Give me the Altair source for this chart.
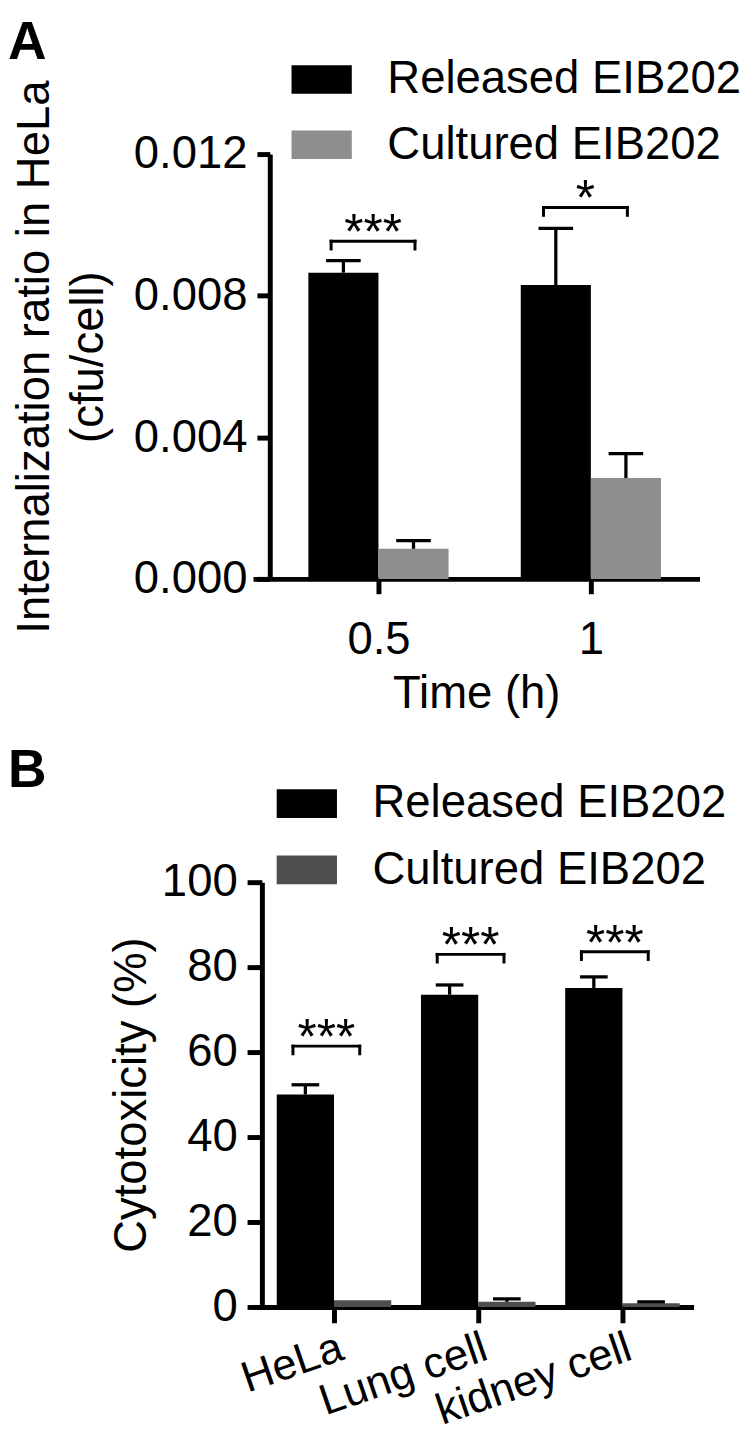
import json
import altair as alt
import pandas as pd

FONT = "Liberation Sans"
FS = 46

series = ["Released EIB202", "Cultured EIB202"]

# Panel A data
times = ["0.5", "1"]
a_released = [0.00865, 0.00830]
a_released_err = [0.00034, 0.00160]
a_cultured = [0.00085, 0.00285]
a_cultured_err = [0.00023, 0.00069]
a_sig = ["***", "*"]
a_bracket = [0.00954, 0.01049]
a_yticks = [0.0, 0.004, 0.008, 0.012]

# Panel B data
cells = ["HeLa", "Lung cell", "kidney cell"]
b_released = [50.0, 73.5, 75.1]
b_released_err = [2.3, 2.3, 2.6]
b_cultured = [1.6, 1.2, 0.9]
b_cultured_err = [0.0, 0.7, 0.3]
b_sig = ["***", "***", "***"]
b_bracket = [61.4, 83.0, 83.6]
b_yticks = [0, 20, 40, 60, 80, 100]


def build(cats, rel, rel_err, cul, cul_err, sig, brk, w, b_left, b_right, leg):
    bars = []
    for i, c in enumerate(cats):
        for s, vals, errs, x0 in ((series[0], rel, rel_err, i - w), (series[1], cul, cul_err, i)):
            bars.append({"cat": c, "series": s, "x0": x0, "x1": x0 + w, "xc": x0 + w / 2,
                         "v": vals[i], "top": vals[i] + errs[i], "err": errs[i]})
    segs, stars = [], []
    for i, c in enumerate(cats):
        xl, xr = i + b_left, i + b_right
        y = brk[i]
        y2 = y - leg
        segs += [{"xa": xl, "xb": xr, "ya": y, "yb": y},
                 {"xa": xl, "xb": xl, "ya": y, "yb": y2},
                 {"xa": xr, "xb": xr, "ya": y, "yb": y2}]
        stars.append({"x": (xl + xr) / 2, "y": y, "t": sig[i]})
    return pd.DataFrame(bars), pd.DataFrame(segs), pd.DataFrame(stars)


def panel(bars, segs, stars, xdom, ydom, colors, xaxis, yaxis, legend, cap, title, w, h, star_dy):
    xs = alt.Scale(domain=xdom, nice=False, zero=False)
    ys = alt.Scale(domain=ydom, nice=False)
    rect = alt.Chart(bars).mark_rect().encode(
        x=alt.X("x0:Q", scale=xs, axis=xaxis), x2="x1:Q",
        y=alt.Y("v:Q", scale=ys, axis=yaxis), y2=alt.datum(0),
        color=alt.Color("series:N", scale=alt.Scale(domain=series, range=colors), legend=legend),
    )
    eb = bars[bars.err > 0]
    rule = alt.Chart(eb).mark_rule(color="black", strokeWidth=3.3).encode(
        x=alt.X("xc:Q", scale=xs, axis=xaxis),
        y=alt.Y("v:Q", scale=ys, axis=yaxis), y2="top:Q")
    capm = alt.Chart(eb).mark_tick(orient="horizontal", size=cap, thickness=3.3, color="black", opacity=1).encode(
        x=alt.X("xc:Q", scale=xs, axis=xaxis),
        y=alt.Y("top:Q", scale=ys, axis=yaxis))
    br = alt.Chart(segs).mark_rule(color="black", strokeWidth=3, strokeCap="square").encode(
        x=alt.X("xa:Q", scale=xs, axis=xaxis), x2="xb:Q",
        y=alt.Y("ya:Q", scale=ys, axis=yaxis), y2="yb:Q")
    st = alt.Chart(stars).mark_text(font=FONT, fontSize=50, baseline="alphabetic", dy=star_dy, color="black").encode(
        x=alt.X("x:Q", scale=xs, axis=xaxis),
        y=alt.Y("y:Q", scale=ys, axis=yaxis), text="t:N")
    return alt.layer(rect, rule, capm, br, st).properties(width=w, height=h, title=title)


axis_common = dict(domainColor="black", domainWidth=5, tickColor="black", tickWidth=5,
                   labelFont=FONT, labelColor="black", titleFont=FONT,
                   titleFontSize=FS, titleFontWeight="normal", titleColor="black", grid=False,
                   domainCap="butt", labelLimit=500, labelOverlap=False)

legend_common = dict(orient="none", title=None, symbolType="M-1,-0.475H1V0.475H-1Z", symbolSize=3721,
                     symbolStrokeWidth=0, labelFont=FONT, labelFontSize=FS, labelColor="black",
                     labelLimit=600, labelOffset=36, padding=0)

LABEL_DX = -248

# Panel A
wA = 0.33
aBars, aSegs, aStars = build(times, a_released, a_released_err, a_cultured, a_cultured_err,
                             a_sig, a_bracket, wA, -wA / 2 - 0.058, wA / 2 + 0.007, 0.00022)
chartA = panel(
    aBars, aSegs, aStars, [-0.5907, 1.5116], [0, 0.012], ["#000000", "#8e8e8e"],
    alt.Axis(values=[0, 1], labelExpr=json.dumps(times) + "[datum.value]", tickSize=15,
             labelFontSize=FS, labelPadding=25, title="Time (h)", titlePadding=9, **axis_common),
    alt.Axis(values=a_yticks, format=".3f", offset=-17, tickSize=13, labelPadding=10,
             labelFontSize=FS, title=["Internalization ratio in HeLa", "(cfu/cell)"],
             titleLineHeight=55, titlePadding=21, titleY=205, **axis_common),
    alt.Legend(legendX=39, legendY=-106, rowPadding=12, **legend_common),
    35,
    alt.TitleParams("A", anchor="start", frame="group", fontSize=54, fontWeight="bold", font=FONT,
                    color="black", dx=LABEL_DX, offset=-21),
    452, 430, 8,
)

# Panel B
wB = 0.397
bBars, bSegs, bStars = build(cells, b_released, b_released_err, b_cultured, b_cultured_err,
                             b_sig, b_bracket, wB, -wB / 2 - 0.086, wB / 2 - 0.02, 1.8)
chartB = panel(
    bBars, bSegs, bStars, [-0.5616, 2.4932], [0, 100], ["#000000", "#4e4e4e"],
    alt.Axis(values=[0, 1, 2], labelExpr=json.dumps(cells) + "[datum.value]", tickSize=16,
             labelFontSize=44, labelPadding=3, labelAngle=-19, labelAlign="right",
             labelBaseline="top", title=None, **axis_common),
    alt.Axis(values=b_yticks, offset=-9, tickSize=15, labelPadding=10, labelFontSize=FS,
             title="Cytotoxicity (%)", titlePadding=6, **axis_common),
    alt.Legend(legendX=24, legendY=-110, rowPadding=13, **legend_common),
    28,
    alt.TitleParams("B", anchor="start", frame="group", fontSize=54, fontWeight="bold", font=FONT,
                    color="black", dx=LABEL_DX, offset=-25),
    446, 430, 8,
)

chart = alt.concat(chartA, chartB, columns=1, spacing=29, align="each", bounds="full").resolve_scale(
    color="independent", x="independent", y="independent"
).properties(padding={"top": 0, "left": 0, "right": 0, "bottom": 15}).configure_view(stroke=None)

chart.save("out.html", embed_options={"renderer": "svg", "actions": False})
